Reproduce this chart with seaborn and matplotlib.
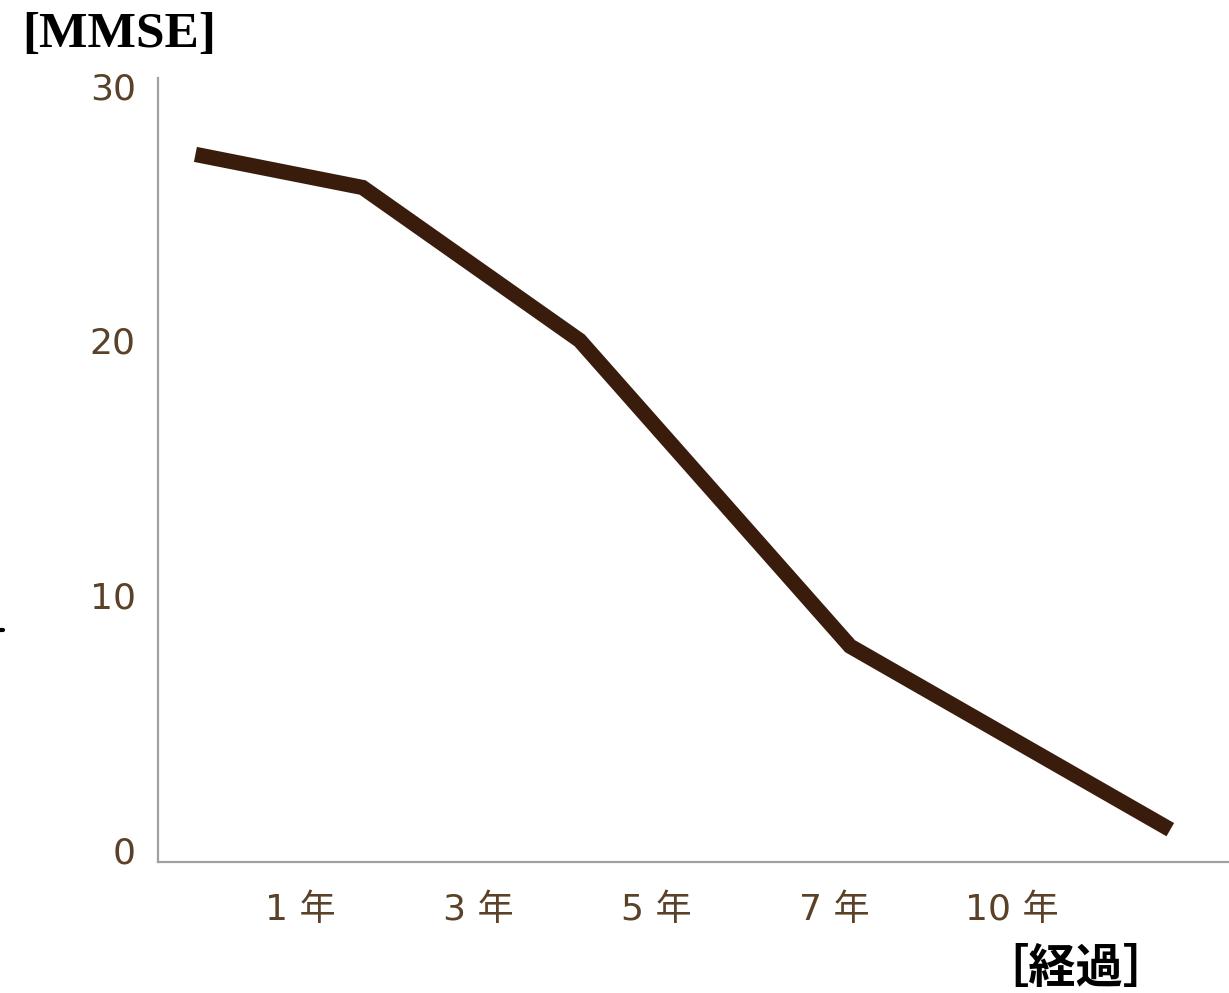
import matplotlib
matplotlib.use("Agg")
import matplotlib.pyplot as plt
from matplotlib.lines import Line2D
import seaborn as sns
import pandas as pd

# MMSE score over the course of the illness
stage_pos = [0.41, 1.35, 2.57, 4.09, 5.89]
mmse = [27.3, 26.0, 20.0, 8.0, 0.8]

tick_pos = [1, 2, 3, 4, 5]
tick_labels = ["1 年", "3 年", "5 年", "7 年", "10 年"]
y_ticks = [0, 10, 20, 30]

sns.set_style("white")
plt.rcParams["font.family"] = ["DejaVu Sans", "Noto Sans CJK JP"]

df = pd.DataFrame({"stage": stage_pos, "mmse": mmse})

fig = plt.figure(figsize=(12.29, 9.93), dpi=100)
ax = fig.add_axes([0.1286, 0.1319, 0.8714, 0.7896])

sns.lineplot(data=df, x="stage", y="mmse", ax=ax, color="#3a1c0c",
             linewidth=11, solid_joinstyle="miter", solid_capstyle="butt",
             sort=False)

ax.set_xlim(0.2, 6.22)
ax.set_ylim(-0.47, 30.3)
ax.set_xticks(tick_pos)
ax.set_xticklabels(tick_labels)
ax.set_yticks(y_ticks)
ax.set_xlabel("")
ax.set_ylabel("")

label_color = "#5a4128"
ax.tick_params(axis="y", length=0, pad=16, labelsize=26, labelcolor=label_color)
ax.tick_params(axis="x", length=0, pad=22, labelsize=26, labelcolor=label_color)

for side in ("top", "right"):
    ax.spines[side].set_visible(False)
for side in ("left", "bottom"):
    ax.spines[side].set_color("#a0a0a0")
    ax.spines[side].set_linewidth(1.6)

fig.text(0.018, 0.965, "[MMSE]", family="Liberation Serif", fontweight="bold",
         fontsize=37, color="black", ha="left", va="center")
fig.text(0.875, 0.024, "［経過］", family=["Noto Sans CJK JP"], fontweight="bold",
         fontsize=34, color="black", ha="center", va="center")

fig.add_artist(Line2D([0.0, 0.0025], [0.3655, 0.3655], transform=fig.transFigure,
                      color="black", linewidth=3))

fig.savefig("out.png", dpi=100)
